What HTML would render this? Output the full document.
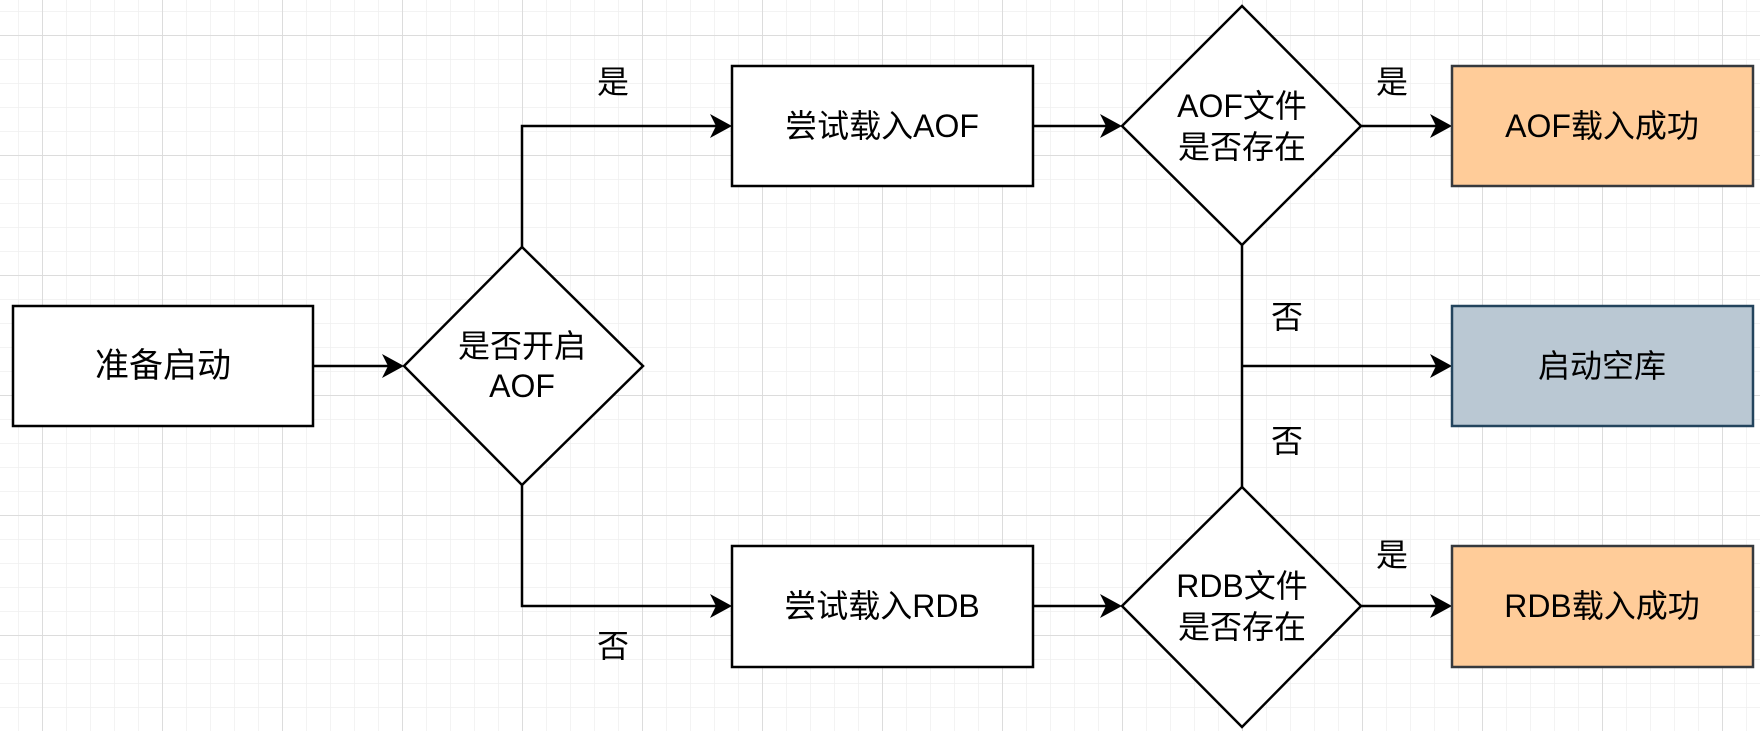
<!DOCTYPE html>
<html><head><meta charset="utf-8"><style>
html,body{margin:0;padding:0;background:#fff;}
svg{display:block;}
text{font-family:"Liberation Sans","Noto Sans CJK SC",sans-serif;font-size:32px;fill:#000;text-anchor:middle;dominant-baseline:central;}
</style></head><body>
<svg width="1760" height="731" viewBox="0 0 1760 731" xmlns="http://www.w3.org/2000/svg">
<defs>
<pattern id="minor" x="42" y="35" width="24" height="24" patternUnits="userSpaceOnUse">
<path d="M0 0H24M0 0V24" stroke="#efefef" stroke-width="1.5" fill="none"/>
</pattern>
<pattern id="major" x="42" y="35" width="120" height="120" patternUnits="userSpaceOnUse">
<path d="M0 0H120M0 0V120" stroke="#dcdcdc" stroke-width="2" fill="none"/>
</pattern>
<marker id="ar" markerWidth="10" markerHeight="10" refX="9" refY="5" orient="auto" markerUnits="userSpaceOnUse" viewBox="0 0 10 10">
</marker>
</defs>
<rect width="1760" height="731" fill="url(#minor)"/>
<rect width="1760" height="731" fill="url(#major)"/>

<g stroke="#000" stroke-width="2.5" fill="none">
<path d="M313 366H388"/>
<path d="M522 247V126H716"/>
<path d="M522 485V606H716"/>
<path d="M1033 126H1106"/>
<path d="M1033 606H1106"/>
<path d="M1361 126H1436"/>
<path d="M1361 606H1436"/>
<path d="M1242 245V487"/>
<path d="M1242 366H1436"/>
</g>
<g fill="#000">
<path d="M404 366L382 354L388 366L382 378Z"/>
<path d="M732 126L710 114L716 126L710 138Z"/>
<path d="M732 606L710 594L716 606L710 618Z"/>
<path d="M1122 126L1100 114L1106 126L1100 138Z"/>
<path d="M1122 606L1100 594L1106 606L1100 618Z"/>
<path d="M1452 126L1430 114L1436 126L1430 138Z"/>
<path d="M1452 606L1430 594L1436 606L1430 618Z"/>
<path d="M1452 366L1430 354L1436 366L1430 378Z"/>
</g>

<g stroke="#000" stroke-width="2.5" fill="#fff">
<rect x="13" y="306" width="300" height="120"/>
<polygon points="522,247 643,366 522,485 404,366"/>
<rect x="732" y="66" width="301" height="120"/>
<rect x="732" y="546" width="301" height="121"/>
<polygon points="1242,6 1361,126 1242,245 1122,126"/>
<polygon points="1242,487 1361,606 1242,727 1122,606"/>
</g>
<rect x="1452" y="66" width="301" height="120" fill="#ffcc99" stroke="#36393d" stroke-width="2.5"/>
<rect x="1452" y="546" width="301" height="121" fill="#ffcc99" stroke="#36393d" stroke-width="2.5"/>
<rect x="1452" y="306" width="301" height="120" fill="#bac8d3" stroke="#23445d" stroke-width="2.5"/>

<text x="163" y="366" style="font-size:34px">准备启动</text>
<text x="522" y="346">是否开启</text>
<text x="522" y="386">AOF</text>
<text x="882" y="126">尝试载入AOF</text>
<text x="882" y="606">尝试载入RDB</text>
<text x="1242" y="106">AOF文件</text>
<text x="1242" y="147">是否存在</text>
<text x="1242" y="586">RDB文件</text>
<text x="1242" y="627">是否存在</text>
<text x="1602" y="126">AOF载入成功</text>
<text x="1602" y="606">RDB载入成功</text>
<text x="1602" y="366">启动空库</text>
<text x="613" y="82">是</text>
<text x="613" y="646">否</text>
<text x="1392" y="82">是</text>
<text x="1392" y="555">是</text>
<text x="1287" y="317">否</text>
<text x="1287" y="441">否</text>
</svg>
</body></html>
